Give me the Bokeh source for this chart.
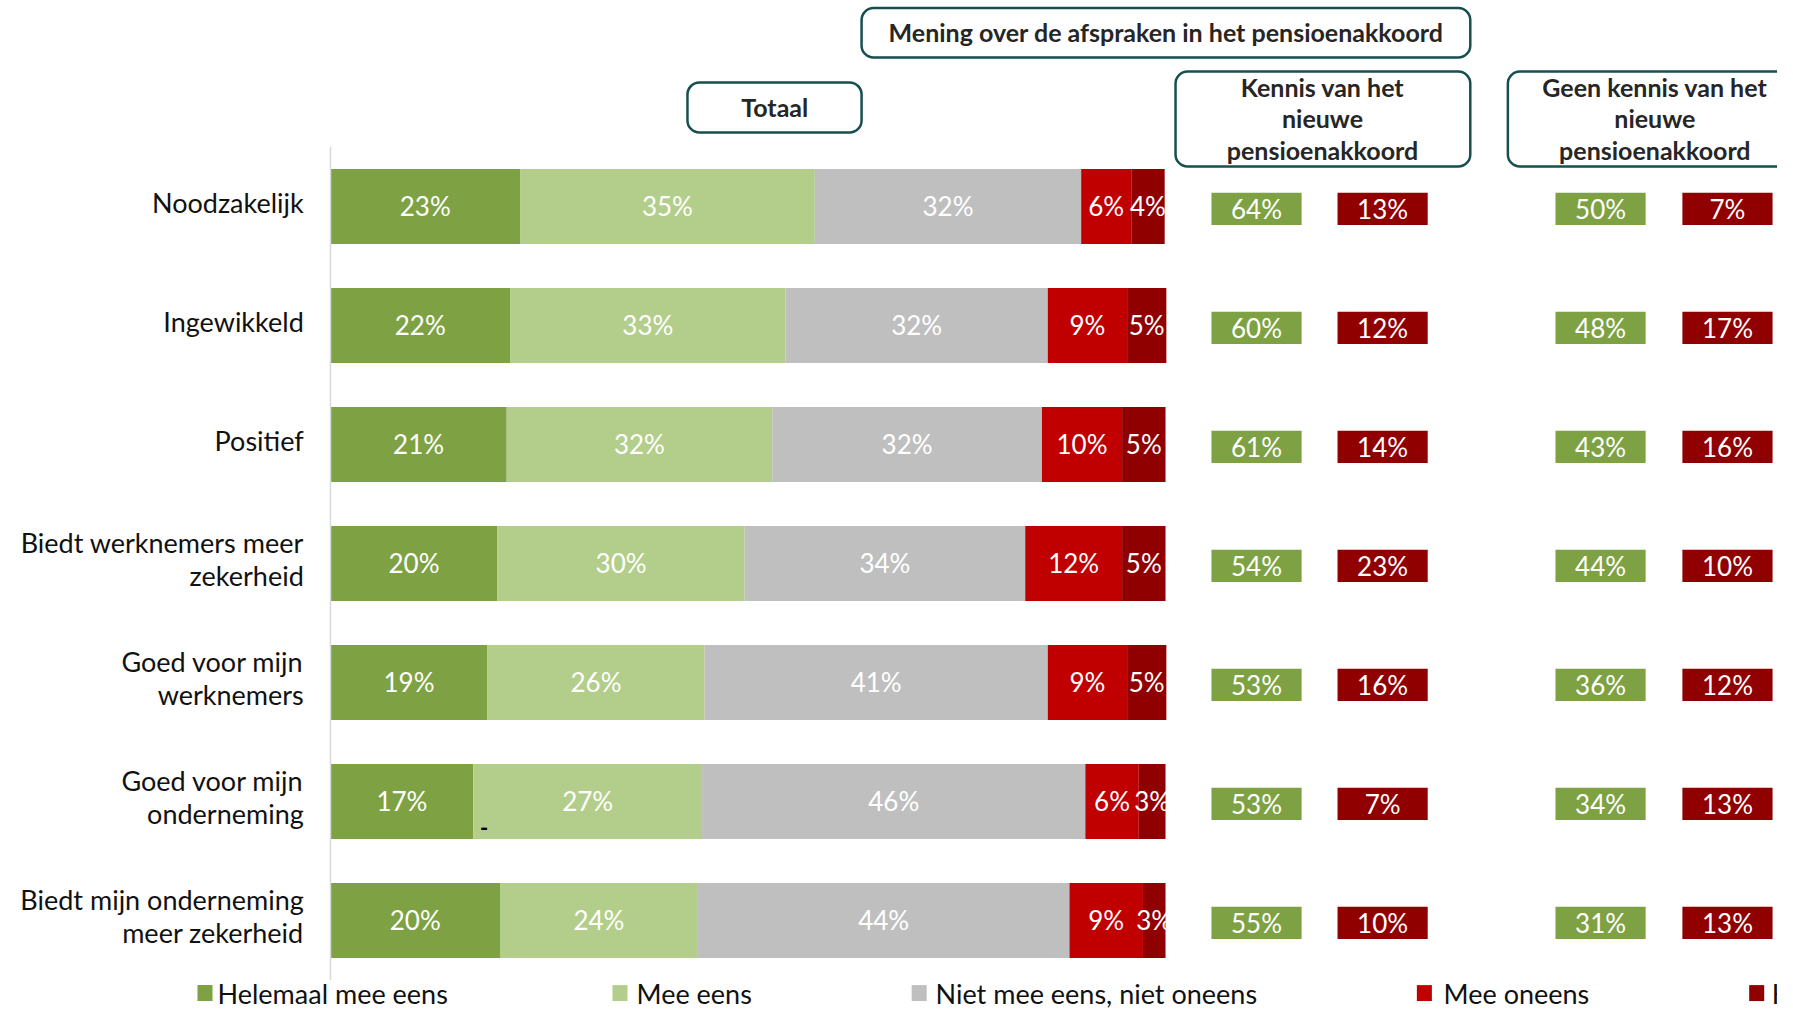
from bokeh.plotting import figure
from bokeh.models import ColumnDataSource, Range1d
from bokeh.embed import file_html
from bokeh.resources import INLINE
from bokeh.core.properties import value

# ---------------- data ----------------
categories = [
    "Noodzakelijk",
    "Ingewikkeld",
    "Positief",
    "Biedt werknemers meer\nzekerheid",
    "Goed voor mijn\nwerknemers",
    "Goed voor mijn\nonderneming",
    "Biedt mijn onderneming\nmeer zekerheid",
]
series = ["Helemaal mee eens", "Mee eens", "Niet mee eens, niet oneens",
          "Mee oneens", "Helemaal mee oneens"]

# bar shares (Totaal)
helemaal_eens = [22.7, 21.5, 21.1, 20.0, 18.8, 17.1, 20.3]
mee_eens = [35.3, 33.0, 31.8, 29.6, 26.0, 27.4, 23.7]
neutraal = [31.9, 31.4, 32.3, 33.6, 41.1, 45.9, 44.5]
mee_oneens = [6.0, 9.5, 9.6, 11.6, 9.5, 6.4, 8.8]
helemaal_oneens = [4.0, 4.7, 5.2, 5.2, 4.7, 3.2, 2.7]

# printed labels (Totaal)
lbl_helemaal_eens = [23, 22, 21, 20, 19, 17, 20]
lbl_mee_eens = [35, 33, 32, 30, 26, 27, 24]
lbl_neutraal = [32, 32, 32, 34, 41, 46, 44]
lbl_mee_oneens = [6, 9, 10, 12, 9, 6, 9]
lbl_helemaal_oneens = [4, 5, 5, 5, 5, 3, 3]

# Kennis van het nieuwe pensioenakkoord
kennis_eens = [64, 60, 61, 54, 53, 53, 55]
kennis_oneens = [13, 12, 14, 23, 16, 7, 10]
# Geen kennis van het nieuwe pensioenakkoord
geen_eens = [50, 48, 43, 44, 36, 34, 31]
geen_oneens = [7, 17, 16, 10, 12, 13, 13]

header_main = "Mening over de afspraken in het pensioenakkoord"
header_totaal = "Totaal"
header_kennis = "Kennis van het\nnieuwe\npensioenakkoord"
header_geen = "Geen kennis van het\nnieuwe\npensioenakkoord"

# ---------------- style ----------------
colors = ["#7EA243", "#B3CE8A", "#BFBFBF", "#C00000", "#900000"]
FONT = value("Lato")
FS = "27px"
BOX = "#174F4F"

p = figure(width=1777, height=1009, output_backend="svg", toolbar_location=None,
           x_range=Range1d(-39.52, 173.29), y_range=Range1d(6.748, -1.731),
           x_axis_type=None, y_axis_type=None, min_border=0,
           outline_line_color=None)
p.xgrid.visible = False
p.ygrid.visible = False

rows = list(range(len(categories)))
cols = ["a", "b", "c", "d", "e"]
vals = [helemaal_eens, mee_eens, neutraal, mee_oneens, helemaal_oneens]
lbls = [lbl_helemaal_eens, lbl_mee_eens, lbl_neutraal, lbl_mee_oneens, lbl_helemaal_oneens]

src = ColumnDataSource(dict(y=rows, **{c: v for c, v in zip(cols, vals)}))
p.hbar_stack(cols, y="y", height=0.63, color=colors, line_color=None, source=src)

# segment labels
lx, ly, lt = [], [], []
for i in rows:
    left = 0.0
    for k in range(5):
        w = vals[k][i]
        lx.append(left + w / 2)
        ly.append(i)
        lt.append(f"{lbls[k][i]}%")
        left += w
p.text(x=lx, y=ly, text=lt, text_color="white", text_font=FONT, text_font_size="26px",
       text_align="center", text_baseline="middle")

# vertical axis line
p.segment(x0=[0], y0=[-0.504], x1=[0], y1=[6.5], line_color="#D9D9D9", line_width=1.5)

# category labels
p.text(x=[-3.2] * len(rows), y=[i - 0.035 for i in rows], text=categories,
       text_color="#111111", text_font=FONT, text_font_size=FS, text_align="right",
       text_baseline="middle", text_line_height=0.99)

# small dash mark
p.text(x=[18.4], y=[5.22], text=["-"], text_color="black", text_font=FONT,
       text_font_size="22px", text_font_style="bold", text_align="center",
       text_baseline="middle")

# side boxes
side_cols = [(105.5, 116.3, kennis_eens, colors[0]),
             (120.6, 131.4, kennis_oneens, colors[4]),
             (146.7, 157.5, geen_eens, colors[0]),
             (161.9, 172.7, geen_oneens, colors[4])]
for l, r, v, c in side_cols:
    yy = [i + 0.02 for i in rows]
    p.hbar(y=yy, left=l, right=r, height=0.27, fill_color=c, line_color=None)
    p.text(x=[(l + r) / 2] * len(rows), y=yy, text=[f"{x}%" for x in v],
           text_color="white", text_font=FONT, text_font_size="26px",
           text_align="center", text_baseline="middle")

# header boxes
hb = dict(left=[42.75, 63.6, 101.2, 141.0], right=[63.6, 136.5, 136.5, 175.1],
          top=[-1.042, -1.668, -1.134, -1.134], bottom=[-0.622, -1.252, -0.336, -0.336])
p.quad(source=ColumnDataSource(hb), left="left", right="right", top="top", bottom="bottom",
       fill_color="white", line_color=BOX, line_width=2.5, border_radius=12)
p.text(x=[53.2, 100.06, 118.8, 158.6], y=[-0.84, -1.468, -0.74, -0.74],
       text=[header_totaal, header_main, header_kennis, header_geen],
       text_color="#262626", text_font=FONT, text_font_size="25px",
       text_font_style="bold", text_align="center", text_baseline="middle",
       text_line_height=1.05)

# legend
leg_y = 6.61
leg_sq_x = [-15.03, 34.67, 70.5, 131.0, 170.8]
leg_tx_x = [-13.53, 36.65, 72.46, 133.3, 172.6]
p.rect(x=leg_sq_x, y=[leg_y] * 5, width=1.8, height=0.134, fill_color=colors, line_color=None)
p.text(x=leg_tx_x, y=[leg_y] * 5, text=series, text_color="#111111", text_font=FONT,
       text_font_size=FS, text_align="left", text_baseline="middle")

open("out.html", "w").write(file_html(p, INLINE))
